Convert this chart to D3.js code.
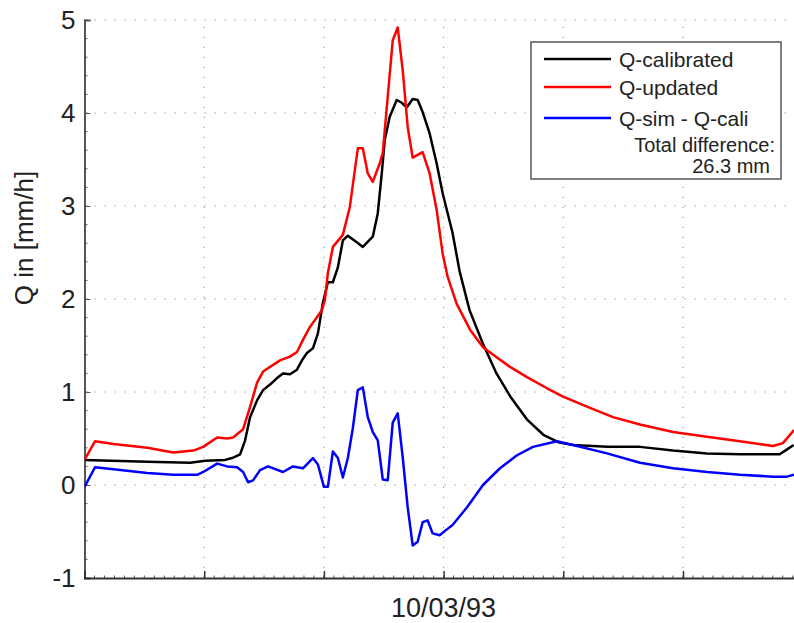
<html>
  <head>
    <meta charset="utf-8">
    <title>Q calibrated vs updated</title>
    <script type="text/javascript" src="https://cdn.jsdelivr.net/npm/d3@7/dist/d3.min.js"></script>
    <style>
      body { margin: 0; background: #fff; }
      text { font-family: "Liberation Sans", Arial, sans-serif; fill: #222; }
    </style>
  </head>
  <body>
    <svg id="chart" width="794" height="623"></svg>
    <script type="text/javascript">
      // hours since start of the plotted window, values in mm/h
      var calTimes = [0, 6.3, 10.6, 12.1, 14.1, 14.8, 15.6, 16.1, 16.6, 17.3, 17.9, 18.6, 19.3, 19.9, 20.6, 21.3, 21.8,
        22.3, 22.9, 23.4, 23.9, 24.4, 24.9, 25.4, 25.9, 26.4, 27.3, 27.9, 28.9, 29.4, 29.8, 30.1, 30.6, 31.3, 31.8,
        32.3, 32.9, 33.4, 33.9, 34.6, 35.3, 35.9, 36.9, 37.6, 38.6, 39.9, 41.3, 42.7, 44.4, 46.0, 47.5, 49.0, 52.4,
        55.7, 59.0, 62.4, 65.7, 69.7, 70.4, 71.1];
      var calValues = [0.27, 0.25, 0.24, 0.26, 0.27, 0.29, 0.33, 0.48, 0.73, 0.91, 1.02, 1.08, 1.15, 1.2, 1.19, 1.24, 1.34,
        1.42, 1.47, 1.63, 1.96, 2.18, 2.18, 2.34, 2.63, 2.68, 2.61, 2.56, 2.67, 2.92, 3.35, 3.71, 3.96, 4.14, 4.11,
        4.06, 4.15, 4.14, 4.01, 3.78, 3.46, 3.14, 2.71, 2.3, 1.88, 1.53, 1.2, 0.95, 0.7, 0.54, 0.46, 0.43, 0.41,
        0.41, 0.37, 0.34, 0.33, 0.33, 0.38, 0.43];

      var updTimes = [0, 1.05, 2.9, 6.3, 8.9, 10.9, 11.9, 13.3, 14.3, 14.9, 15.9, 16.6, 17.3, 17.9, 19.6, 20.6, 21.3,
        21.9, 22.6, 23.8, 24.1, 24.4, 24.9, 25.9, 26.6, 27.4, 27.9, 28.4, 28.9, 29.6, 29.9, 30.9, 31.4, 31.9, 32.4,
        32.9, 33.9, 34.6, 35.3, 35.9, 36.4, 37.3, 38.65, 39.95, 41.35, 42.66, 44.36, 46.37, 47.97, 50.68, 52.98,
        55.69, 59.0, 62.41, 66.42, 69.02, 70.02, 71.13];
      var updValues = [0.27, 0.47, 0.44, 0.4, 0.35, 0.37, 0.41, 0.51, 0.5, 0.51, 0.6, 0.84, 1.1, 1.22, 1.34, 1.38, 1.43,
        1.56, 1.7, 1.88, 1.99, 2.28, 2.56, 2.69, 2.99, 3.62, 3.62, 3.35, 3.26, 3.46, 3.57, 4.78, 4.92, 4.46, 3.85,
        3.52, 3.58, 3.35, 2.96, 2.49, 2.24, 1.95, 1.67, 1.48, 1.37, 1.27, 1.16, 1.04, 0.95, 0.83, 0.73,
        0.65, 0.57, 0.52, 0.46, 0.42, 0.45, 0.59];

      var diffTimes = [0, 1.05, 2.9, 6.3, 8.9, 11.3, 11.9, 13.3, 14.3, 15.3, 15.9, 16.4, 16.9, 17.6, 18.4, 19.9, 20.9,
        21.9, 22.9, 23.4, 24.0, 24.4, 24.9, 25.4, 25.9, 26.4, 26.9, 27.4, 27.9, 28.4, 28.9, 29.4, 29.9, 30.4, 30.9,
        31.4, 31.9, 32.4, 32.9, 33.4, 33.9, 34.4, 34.9, 35.6, 36.3, 36.9, 38.35, 39.95, 41.65, 43.36, 44.96, 47.37,
        48.97, 52.38, 55.69, 59.0, 62.41, 65.71, 69.02, 70.42, 71.13];
      var diffValues = [-0.02, 0.19, 0.17, 0.13, 0.11, 0.11, 0.14, 0.23, 0.2, 0.19, 0.14, 0.03, 0.05, 0.16, 0.2, 0.14, 0.2,
        0.18, 0.29, 0.22, -0.02, -0.02, 0.36, 0.29, 0.08, 0.29, 0.61, 1.02, 1.05, 0.73, 0.57, 0.48, 0.06, 0.05, 0.67,
        0.77, 0.3, -0.24, -0.65, -0.61, -0.4, -0.38, -0.52, -0.54, -0.48, -0.43, -0.24, 0.0, 0.18, 0.32, 0.41, 0.47,
        0.43, 0.34, 0.24, 0.18, 0.14, 0.11, 0.09, 0.09, 0.11];

      var seriesNames = ["Q-calibrated", "Q-updated", "Q-sim - Q-cali"];
      var seriesColors = ["#000000", "#ff0000", "#0000ff"];
      var noteLines = ["Total difference:", "26.3 mm"];
      var yTicks = [-1, 0, 1, 2, 3, 4, 5];
      var xTicks = [0, 12, 24, 36, 48, 60, 72];
      var xLabel = "10/03/93";
      var yLabel = "Q in [mm/h]";

      function ready(fn) {
        if (document.readyState != 'loading'){ fn() }
        else { document.addEventListener('DOMContentLoaded', fn) }
      }
      ready(drawChart);

      function drawChart() {
        var svg = d3.select("#chart");
        var left = 84.5, right = 802.7, top = 20, bottom = 578;

        var x = d3.scaleLinear().domain([0, 72]).range([left, right]);
        var y = d3.scaleLinear().domain([-1, 5]).range([bottom, top]);

        // dotted grid
        var grid = svg.append("g")
            .attr("stroke", "#8c8c8c")
            .attr("stroke-width", 1)
            .attr("stroke-dasharray", "1.2,8.8");
        grid.selectAll("line.gx")
          .data(xTicks.slice(1))
          .enter().append("line")
            .attr("x1", function(d) { return x(d); })
            .attr("x2", function(d) { return x(d); })
            .attr("y1", bottom).attr("y2", top);
        grid.selectAll("line.gy")
          .data(yTicks.slice(1))
          .enter().append("line")
            .attr("x1", left).attr("x2", right)
            .attr("y1", function(d) { return y(d); })
            .attr("y2", function(d) { return y(d); });

        // minor ticks
        var minor = svg.append("g").attr("stroke", "#555").attr("stroke-width", 1);
        minor.selectAll("line.my")
          .data(y.ticks(30))
          .enter().append("line")
            .attr("x1", left).attr("x2", left + 3)
            .attr("y1", function(d) { return y(d); })
            .attr("y2", function(d) { return y(d); });
        minor.selectAll("line.mx")
          .data(x.ticks(72))
          .enter().append("line")
            .attr("y1", bottom).attr("y2", bottom - 2.5)
            .attr("x1", function(d) { return x(d); })
            .attr("x2", function(d) { return x(d); });

        // axes
        var yAxis = svg.append("g")
            .attr("transform", "translate(" + left + ",0)")
            .call(d3.axisLeft(y).tickValues(yTicks).tickSize(-6).tickPadding(9)
              .tickFormat(function(d) { return String(d); }));
        yAxis.select(".domain").attr("stroke", "#555").attr("stroke-width", 2);
        yAxis.selectAll(".tick line").attr("stroke", "#555");
        yAxis.selectAll(".tick text")
            .attr("font-size", 26)
            .attr("font-family", "Liberation Sans, Arial, sans-serif")
            .attr("fill", "#222");

        var xAxis = svg.append("g")
            .attr("transform", "translate(0," + bottom + ")")
            .call(d3.axisBottom(x).tickValues(xTicks).tickSize(-7).tickFormat(""));
        xAxis.select(".domain").attr("stroke", "#333").attr("stroke-width", 2);
        xAxis.selectAll(".tick line").attr("stroke", "#333").attr("stroke-width", 1.5);

        svg.append("text")
            .attr("x", (left + right) / 2)
            .attr("y", 617)
            .attr("text-anchor", "middle")
            .attr("font-size", 27)
            .text(xLabel);

        svg.append("text")
            .attr("transform", "translate(33," + 238 + ") rotate(-90)")
            .attr("text-anchor", "middle")
            .attr("font-size", 26)
            .text(yLabel);

        // series
        svg.append("clipPath").attr("id", "plot-clip")
          .append("rect")
            .attr("x", left).attr("y", top - 5)
            .attr("width", right - left).attr("height", bottom - top + 5);

        var series = [
          { times: calTimes, values: calValues },
          { times: updTimes, values: updValues },
          { times: diffTimes, values: diffValues }
        ];

        var line = d3.line()
            .x(function(d) { return x(d[0]); })
            .y(function(d) { return y(d[1]); });

        svg.append("g")
            .attr("clip-path", "url(#plot-clip)")
            .attr("fill", "none")
            .attr("stroke-width", 2.5)
            .attr("stroke-linejoin", "round")
          .selectAll("path")
          .data(series)
          .enter().append("path")
            .attr("stroke", function(d, i) { return seriesColors[i]; })
            .attr("d", function(d) {
              return line(d.times.map(function(t, k) { return [t, d.values[k]]; }));
            });

        // legend
        var lg = svg.append("g").attr("transform", "translate(531,42)");
        lg.append("rect")
            .attr("width", 250).attr("height", 137)
            .attr("fill", "#fff")
            .attr("stroke", "#555").attr("stroke-width", 1.5);

        var rows = lg.selectAll("g.row")
          .data(seriesNames)
          .enter().append("g")
            .attr("transform", function(d, i) { return "translate(0," + [17, 45, 76][i] + ")"; });
        rows.append("line")
            .attr("x1", 13).attr("x2", 80)
            .attr("stroke", function(d, i) { return seriesColors[i]; })
            .attr("stroke-width", 2.5);
        rows.append("text")
            .attr("x", 88).attr("y", 7.5)
            .attr("font-size", 21)
            .text(function(d) { return d; });

        lg.selectAll("text.note")
          .data(noteLines)
          .enter().append("text")
            .attr("x", function(d, i) { return i === 0 ? 244 : 239; })
            .attr("y", function(d, i) { return 110 + i * 21; })
            .attr("text-anchor", "end")
            .attr("font-size", 20)
            .text(function(d) { return d; });
      }
    </script>
  </body>
</html>
